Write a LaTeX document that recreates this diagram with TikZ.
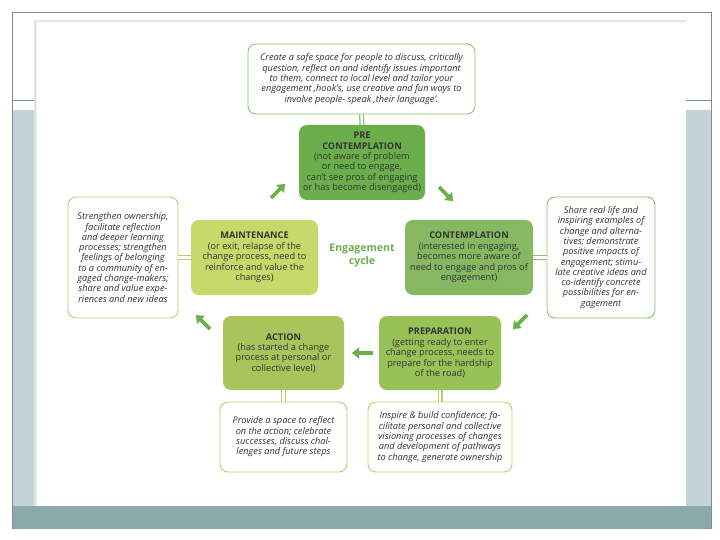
\documentclass[tikz,border=0pt]{standalone}
\usepackage{fontspec}
\setmainfont{Open Sans}
\usetikzlibrary{arrows.meta}
\definecolor{preG}{HTML}{6AAF4B}
\definecolor{conG}{HTML}{86B862}
\definecolor{mainG}{HTML}{C6DA6B}
\definecolor{actG}{HTML}{A9C45B}
\definecolor{prepG}{HTML}{98C158}
\definecolor{bordG}{HTML}{8DBE6C}
\definecolor{bordL}{HTML}{B8CE6E}
\definecolor{txtD}{HTML}{333333}
\definecolor{slideLine}{HTML}{7F8C8D}
\definecolor{slideFill}{HTML}{C5D3D8}
\definecolor{slideBar}{HTML}{8AAAA9}
\tikzset{
  stage/.style={rounded corners=8pt, align=center, inner sep=1pt, text=txtD,
    font=\fontsize{9.2}{10.4}\selectfont},
  note/.style={rounded corners=8pt, align=center, inner sep=1pt, fill=white, text=txtD,
    line width=0.9pt, font=\fontsize{9.2}{10.3}\selectfont\itshape},
  link/.style={line width=1.3pt, double=white, double distance=2.4pt},
  cyc/.style={draw=preG, line width=3.6pt, -{Triangle[width=11pt,length=7pt]}}
}
\begin{document}
\begin{tikzpicture}[x=1pt,y=-1pt]
\useasboundingbox (0,0) rectangle (720,540);
% slide background
\fill[slideFill] (12,110) rectangle (711,506);
\fill[slideBar] (12,506) rectangle (711,529);
\draw[slideLine, line width=0.6pt] (12,529) -- (12,12) -- (711,12) -- (711,529);
\draw[slideLine, line width=0.6pt] (12,100) -- (711,100);
% card with shadow
\fill[black!12] (34,20) rectangle (686,506);
\fill[black!6] (35.5,21.5) rectangle (686,506);
\fill[white] (37,23) rectangle (686,506);

% nodes
\node[note, draw=bordG, minimum width=227pt, minimum height=70pt] (top) at (361.5,79)
  {Create a safe space for people to discuss, critically\\
   question, reflect on and identify issues important\\
   to them, connect to local level and tailor your\\
   engagement ‚hook’s, use creative and fun ways to\\
   involve people- speak ‚their language’.};
\node[stage, fill=preG, minimum width=126pt, minimum height=75pt] (pre) at (362,162.5)
  {\textbf{PRE}\\ \textbf{CONTEMPLATION}\\ (not aware of problem\\ or need to engage,\\
   can’t see pros of engaging\\ or has become disengaged)};
\node[stage, fill=mainG, minimum width=127pt, minimum height=75pt] (main) at (254.5,257.5)
  {\textbf{MAINTENANCE}\\ (or exit, relapse of the\\ change process, need to\\
   reinforce and value the\\ changes)};
\node[stage, fill=conG, minimum width=128pt, minimum height=75pt] (con) at (469,257.5)
  {\textbf{CONTEMPLATION}\\ (interested in engaging,\\ becomes more aware of\\
   need to engage and pros of\\ engagement)};
\node[note, draw=bordL, minimum width=110pt, minimum height=121pt] (left) at (123,257.5)
  {Strengthen ownership,\\ facilitate reflection\\ and deeper learning\\ processes; strengthen\\
   feelings of belonging\\ to a community of en-\\ gaged change-makers;\\
   share and value expe-\\ riences and new ideas};
\node[note, draw=bordG, minimum width=108pt, minimum height=121pt] (right) at (601,257.5)
  {Share real life and\\ inspiring examples of\\ change and alterna-\\ tives; demonstrate\\
   positive impacts of\\ engagement; stimu-\\ late creative ideas and\\ co-identify concrete\\
   possibilities for en-\\ gagement};
\node[stage, fill=actG, minimum width=121pt, minimum height=74pt] (act) at (283.5,353)
  {\textbf{ACTION}\\ (has started a change\\ process at personal or\\ collective level)};
\node[stage, fill=prepG, minimum width=122pt, minimum height=74pt] (prep) at (440,353)
  {\textbf{PREPARATION}\\ (getting ready to enter\\ change process, needs to\\
   prepare for the hardship\\ of the road)};
\node[note, draw=bordL, minimum width=127pt, minimum height=70pt] (actn) at (283.5,437)
  {Provide a space to reflect\\ on the action; celebrate\\ successes, discuss chal-\\
   lenges and future steps};
\node[note, draw=bordL, minimum width=144pt, minimum height=70pt] (prepn) at (440,437)
  {Inspire \& build confidence; fa-\\ cilitate personal and collective\\
   visioning processes of changes\\ and development of pathways\\ to change, generate ownership};
\node[text=preG, align=center, font=\fontsize{10.5}{13}\selectfont\bfseries] (cycle) at (362,256)
  {Engagement\\ cycle};

% double connectors
\draw[link, draw=bordG] (top.south) -- (pre.north);
\draw[link, draw=bordL] (left.east) -- (main.west);
\draw[link, draw=bordG] (con.east) -- (right.west);
\draw[link, draw=bordL] (act.south) -- (actn.north);
\draw[link, draw=bordL] (prep.south) -- (prepn.north);

% cycle arrows
\coordinate (a1s) at (271,198); \coordinate (a1e) at (285,184);
\coordinate (a2s) at (439,187); \coordinate (a2e) at (453,201);
\coordinate (a3s) at (527,315); \coordinate (a3e) at (513,329);
\coordinate (a4s) at (373,353); \coordinate (a4e) at (352,353);
\coordinate (a5s) at (210,329); \coordinate (a5e) at (196,315);
\draw[cyc] (a1s) -- (a1e);
\draw[cyc] (a2s) -- (a2e);
\draw[cyc] (a3s) -- (a3e);
\draw[cyc] (a4s) -- (a4e);
\draw[cyc] (a5s) -- (a5e);
\end{tikzpicture}
\end{document}
